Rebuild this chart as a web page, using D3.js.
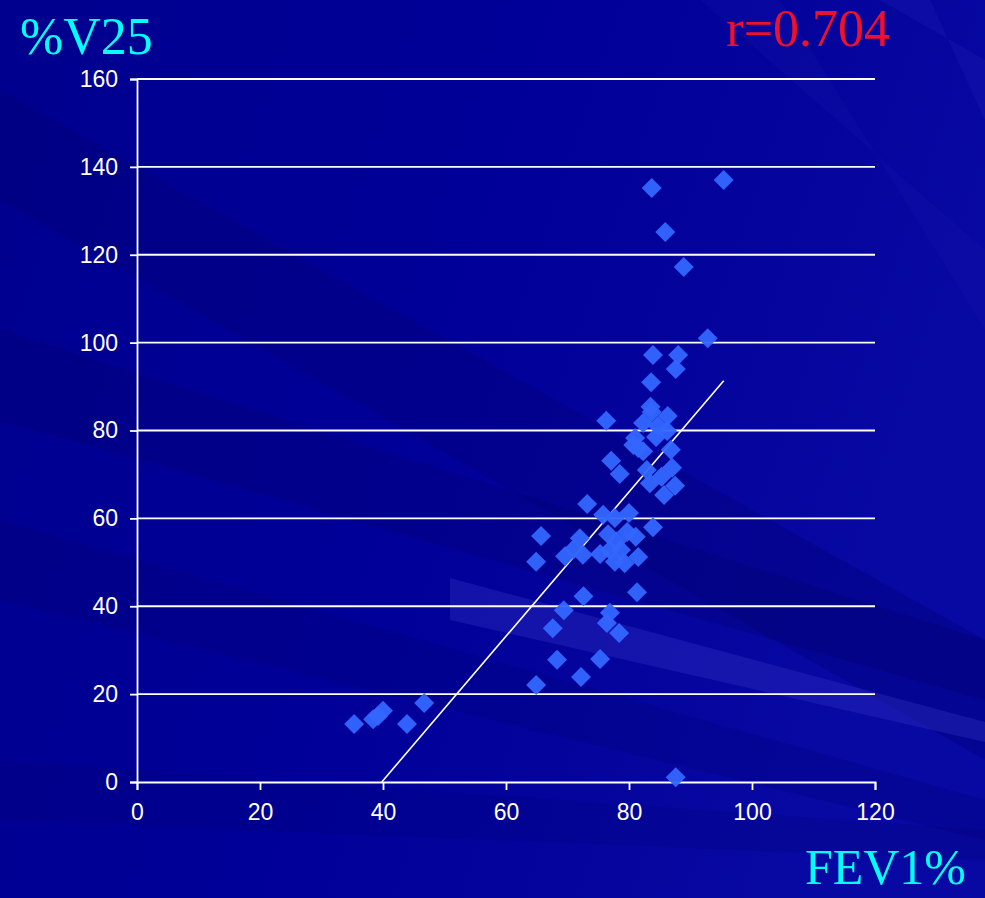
<!DOCTYPE html>
<html>
<head>
<meta charset="utf-8">
<script src="https://cdn.jsdelivr.net/npm/d3@7"></script>
<style>
  body { margin: 0; background: #000090; }
  svg { display: block; }
</style>
</head>
<body>
<svg id="chart" width="985" height="898"></svg>
<script>
// FEV1% (x) vs %V25 (y)
var fev1 = [35.3, 38.4, 39.2, 40.0, 43.9, 46.7,
  64.9, 64.9, 65.7, 67.6, 68.3, 69.4, 69.6, 72.2, 72.6, 73.2, 72.0, 71.0, 72.5,
  75.3, 76.9, 76.4, 78.4, 81.3,
  75.8, 77.7, 80.0, 83.9, 76.6, 78.0, 79.7, 81.1, 76.9, 78.7, 77.7, 79.3, 81.5, 75.3,
  76.3, 77.1, 78.5, 83.5, 83.7, 86.3, 82.3, 84.7, 86.2, 81.0, 84.4, 81.5, 80.7, 82.3,
  86.8, 82.9, 87.0, 83.4, 87.5, 85.7, 85.3,
  83.6, 83.9, 88.0, 87.6, 92.8, 88.9, 85.9, 83.7, 95.4, 87.6];
var v25 = [13.2, 14.3, 15.0, 16.2, 13.2, 18.0,
  22.1, 50.1, 56.0, 35.0, 27.8, 39.1, 51.4, 23.9, 42.3, 63.3, 55.5, 53.0, 51.7,
  28.0, 38.5, 36.2, 33.9, 43.2,
  60.8, 60.1, 61.2, 58.0, 56.4, 54.8, 56.9, 55.8, 52.8, 52.8, 50.1, 49.8, 51.2, 51.9,
  82.2, 73.1, 70.1, 85.4, 84.2, 83.3, 81.7, 81.0, 79.9, 78.3, 78.5, 76.0, 76.7, 75.3,
  75.6, 71.0, 71.5, 68.0, 67.4, 65.3, 69.5,
  91.0, 97.2, 97.2, 94.0, 101.0, 117.2, 125.2, 135.2, 137.0, 1.1];

// regression line end points
var fitX = [39.8, 95.4];
var fitY = [0, 91.3];

var xTicks = [0, 20, 40, 60, 80, 100, 120];
var yTicks = [0, 20, 40, 60, 80, 100, 120, 140, 160];

var svg = d3.select("#chart");

// background
var defs = svg.append("defs");
var bg = defs.append("linearGradient").attr("id", "bg")
  .attr("x1", "0").attr("y1", "0").attr("x2", "1").attr("y2", "0.3");
bg.append("stop").attr("offset", "0").attr("stop-color", "#00008e");
bg.append("stop").attr("offset", "0.5").attr("stop-color", "#000098");
bg.append("stop").attr("offset", "1").attr("stop-color", "#0808a2");
svg.append("rect").attr("width", 985).attr("height", 898).attr("fill", "url(#bg)");

// streaks
var streaks = [
  {pts: [[0, 90], [0, 200], [985, 760], [985, 640]], c: "#000070", o: 0.3},
  {pts: [[0, 330], [0, 420], [985, 700], [985, 640]], c: "#000068", o: 0.25},
  {pts: [[0, 520], [0, 600], [985, 840], [985, 800]], c: "#00006a", o: 0.2},
  {pts: [[450, 578], [450, 620], [985, 742], [985, 722]], c: "#3a3acc", o: 0.3},
  {pts: [[700, 0], [780, 0], [985, 330], [985, 250]], c: "#2a2ab8", o: 0.12},
  {pts: [[880, 0], [930, 0], [985, 120], [985, 60]], c: "#3030c0", o: 0.18},
  {pts: [[0, 760], [0, 820], [985, 860], [985, 830]], c: "#000070", o: 0.2}
];
svg.selectAll("polygon.streak").data(streaks).enter().append("polygon")
  .attr("class", "streak")
  .attr("points", function(d) { return d.pts.join(" "); })
  .attr("fill", function(d) { return d.c; })
  .attr("opacity", function(d) { return d.o; });

var x = d3.scaleLinear().domain([0, 120]).range([137, 875]);
var y = d3.scaleLinear().domain([0, 160]).range([782, 79]);

// gridlines
svg.append("g").selectAll("line").data(yTicks.slice(1)).enter().append("line")
  .attr("x1", x(0)).attr("x2", x(120))
  .attr("y1", function(d) { return y(d); }).attr("y2", function(d) { return y(d); })
  .attr("stroke", "#ffffff").attr("stroke-width", 1.8);

// axes
var yAxis = svg.append("g").attr("transform", "translate(" + x(0) + ",0)")
  .call(d3.axisLeft(y).tickValues(yTicks).tickSize(7).tickPadding(12));
var xAxis = svg.append("g").attr("transform", "translate(0," + y(0) + ")")
  .call(d3.axisBottom(x).tickValues(xTicks).tickSize(8).tickPadding(14));
[xAxis, yAxis].forEach(function(a) {
  a.select(".domain").attr("stroke", "#ffffff").attr("stroke-width", 1.8);
  a.selectAll(".tick line").attr("stroke", "#ffffff").attr("stroke-width", 1.8);
  a.selectAll(".tick text").attr("fill", "#ffffff")
    .style("font-family", "'Liberation Sans', Arial, sans-serif")
    .style("font-size", "23px");
});

// regression line
svg.append("line")
  .attr("x1", x(fitX[0])).attr("y1", y(fitY[0]))
  .attr("x2", x(fitX[1])).attr("y2", y(fitY[1]))
  .attr("stroke", "#ffffff").attr("stroke-width", 1.6);

// points
svg.append("g").selectAll("path").data(d3.range(fev1.length)).enter().append("path")
  .attr("d", d3.symbol().type(d3.symbolSquare).size(200))
  .attr("transform", function(i) { return "translate(" + x(fev1[i]) + "," + y(v25[i]) + ") rotate(45)"; })
  .attr("fill", "#3366ff")
  .attr("fill-opacity", 0.95);

// labels
var serif = "'Liberation Serif', 'Times New Roman', serif";
svg.append("text").attr("x", 20).attr("y", 54)
  .style("font-family", serif).style("font-size", "52px").attr("fill", "#00ffff")
  .text("%V25");
svg.append("text").attr("x", 890).attr("y", 46).attr("text-anchor", "end")
  .style("font-family", serif).style("font-size", "52px").attr("fill", "#f0102a")
  .text("r=0.704");
svg.append("text").attr("x", 966).attr("y", 884).attr("text-anchor", "end")
  .style("font-family", serif).style("font-size", "50px").attr("fill", "#00ffff")
  .text("FEV1%");
</script>
</body>
</html>
